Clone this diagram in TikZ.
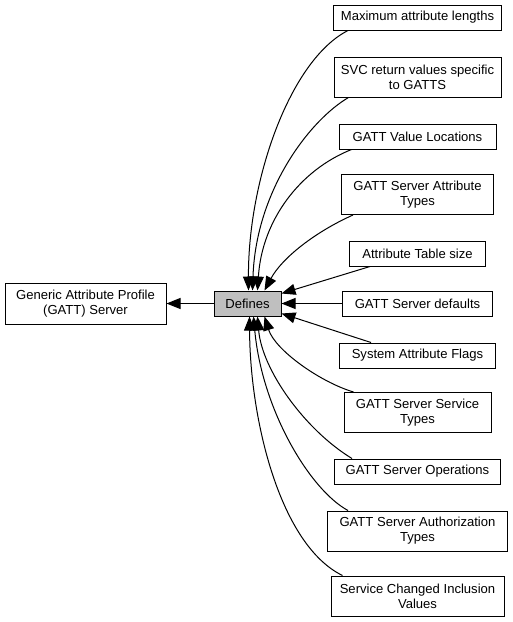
\documentclass[tikz,border=0pt]{standalone}
\usepackage{fontspec}
\setmainfont{Liberation Sans}
\usetikzlibrary{arrows.meta}
\begin{document}
\begin{tikzpicture}[x=0.75pt,y=-0.75pt,
  box/.style={draw=black, line width=0.75pt, fill=white, inner sep=0pt, align=center,
    font=\fontsize{9.8pt}{11.25pt}\selectfont},
  one/.style={minimum height=18.75pt},
  two/.style={minimum height=30pt},
  edge/.style={draw=black, line width=0.75pt, -{Triangle[length=10.5pt,width=8.25pt]}}]
\useasboundingbox (0,0) rectangle (513,622);
% nodes
\node[box, minimum width=120.75pt, minimum height=30.75pt] (gen) at (85.5,303.5) {Generic Attribute Profile\\(GATT) Server};
\node[box, one, fill={rgb,255:red,191;green,191;blue,191}, minimum width=50.25pt] (def) at (247.5,303.5) {Defines};
\node[box, one, minimum width=126pt] (max) at (417.5,17.5) {Maximum attribute lengths};
\node[box, two, minimum width=125.25pt] (svc) at (417.5,77) {SVC return values specific\\to GATTS};
\node[box, one, minimum width=117.75pt] (loc) at (417.5,136.5) {GATT Value Locations};
\node[box, two, minimum width=114pt] (types) at (417.5,194.5) {GATT Server Attribute\\Types};
\node[box, one, minimum width=102pt] (table) at (417.5,253.5) {Attribute Table size};
\node[box, one, minimum width=112.5pt] (dflt) at (417.5,303.5) {GATT Server defaults};
\node[box, one, minimum width=117pt] (flags) at (417.5,355.5) {System Attribute Flags};
\node[box, two, minimum width=110.25pt] (stypes) at (417.5,412.5) {GATT Server Service\\Types};
\node[box, one, minimum width=124.5pt] (ops) at (417.5,471.5) {GATT Server Operations};
\node[box, two, minimum width=135pt] (auth) at (417.5,531) {GATT Server Authorization\\Types};
\node[box, two, minimum width=129.75pt] (chg) at (417.5,596) {Service Changed Inclusion\\Values};
% edges
\draw[edge] (def.west) -- (gen.east);
\draw[edge] ([xshift=11.25pt]max.south west) .. controls (290,60) and (248,180) .. ([xshift=26.25pt]def.north west);
\draw[edge] ([xshift=11.25pt]svc.south west) .. controls (310,120) and (256,190) .. ([xshift=29.25pt]def.north west);
\draw[edge] ([xshift=9.75pt]loc.south west) .. controls (300,170) and (262,220) .. ([xshift=33pt]def.north west);
\draw[edge] ([xshift=9pt]types.south west) .. controls (315,232) and (282,258) .. ([xshift=38.25pt]def.north west);
\draw[edge] ([xshift=15.75pt]table.south west) -- ([yshift=-2.25pt]def.north east);
\draw[edge] (dflt.west) -- (def.east);
\draw[edge] ([xshift=24pt]flags.north west) -- ([yshift=2.25pt]def.south east);
\draw[edge] ([xshift=7.5pt]stypes.north west) .. controls (320,382) and (275,350) .. ([xshift=38.25pt]def.south west);
\draw[edge] ([xshift=13.5pt]ops.north west) .. controls (305,430) and (262,370) .. ([xshift=33pt]def.south west);
\draw[edge] ([xshift=15.75pt]auth.north west) .. controls (310,490) and (262,410) .. ([xshift=30pt]def.south west);
\draw[edge] ([xshift=9pt]chg.north west) .. controls (280,545) and (250,420) .. ([xshift=27pt]def.south west);
\end{tikzpicture}
\end{document}
